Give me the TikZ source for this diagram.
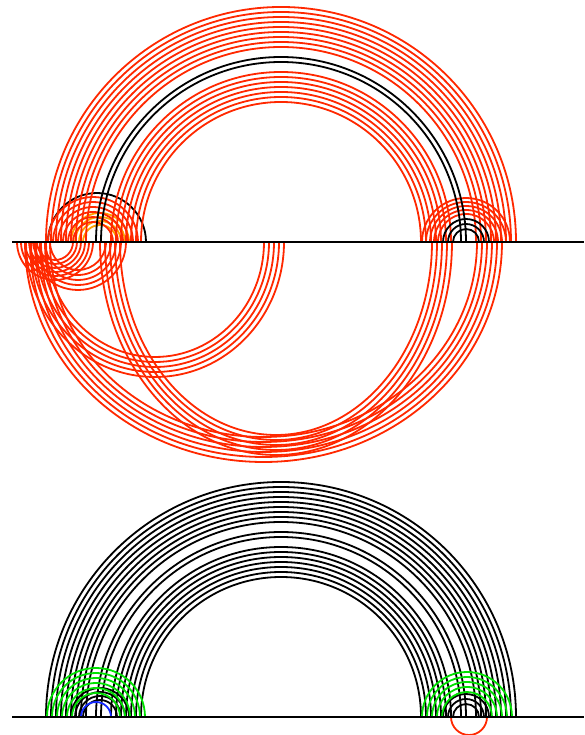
\documentclass[tikz,border=0pt]{standalone}
\usepackage{tikz}
\definecolor{strandred}{RGB}{255,40,0}
\definecolor{strandorange}{RGB}{255,160,0}
\definecolor{strandgreen}{RGB}{0,225,0}
\definecolor{strandblue}{RGB}{20,40,255}

\begin{document}
\begin{tikzpicture}[
  x=1pt, y=1pt,
  strand/.style={line width=1.8pt},
  redstrand/.style={strand, draw=strandred},
  blackstrand/.style={strand, draw=black},
  orangestrand/.style={strand, draw=strandorange},
  greenstrand/.style={strand, draw=strandgreen},
  bluestrand/.style={strand, draw=strandblue},
  axisline/.style={line width=2.2pt, draw=black}
]
\useasboundingbox (0,0) rectangle (584,735);
\coordinate (topW) at (12,493);
\coordinate (topE) at (584,493);
\coordinate (botW) at (12,18);
\coordinate (botE) at (584,18);

\draw[blackstrand] (48,493) arc[start angle=180,end angle=0,radius=49];
\foreach \r in {17,21,25,29}
  \draw[orangestrand] (100-\r,493) arc[start angle=180,end angle=0,radius=\r];
\foreach \r in {20,25,...,45}
  \draw[redstrand] (93-\r,493) arc[start angle=180,end angle=0,radius=\r];
\foreach \r in {28,32,...,44}
  \draw[redstrand] (466-\r,493) arc[start angle=180,end angle=0,radius=\r];
\foreach \r in {195,200,...,235}
  \draw[redstrand] (281-\r,493) arc[start angle=180,end angle=0,radius=\r];
\foreach \r in {140,145,...,170}
  \draw[redstrand] (281-\r,493) arc[start angle=180,end angle=0,radius=\r];
\foreach \r in {180,185}
  \draw[blackstrand] (281-\r,493) arc[start angle=180,end angle=0,radius=\r];
\foreach \r in {13,18,23}
  \draw[blackstrand] (466-\r,493) arc[start angle=180,end angle=0,radius=\r];

\foreach \r in {18,22,...,38}
  \draw[redstrand] (55-\r,493) arc[start angle=180,end angle=360,radius=\r];
\foreach \r in {28,33,...,48}
  \draw[redstrand] (78-\r,493) arc[start angle=180,end angle=360,radius=\r];
\foreach \i [evaluate=\i as \a using 129-5*\i, evaluate=\i as \b using 135-5*\i] in {0,...,4}
  \draw[redstrand] (26+5*\i,493) arc[start angle=180,end angle=360,x radius=\a,y radius=\b];
\foreach \i [evaluate=\i as \a using 238.5-5*\i, evaluate=\i as \b using 220-5*\i] in {0,...,5}
  \draw[redstrand] (25+5*\i,493) arc[start angle=180,end angle=360,x radius=\a,y radius=\b];
\foreach \i [evaluate=\i as \a using 176-5*\i, evaluate=\i as \b using 213-5*\i] in {0,...,4}
  \draw[redstrand] (100+5*\i,493) arc[start angle=180,end angle=360,x radius=\a,y radius=\b];

\foreach \r in {140,145,...,170,180,185,195,200,...,235}
  \draw[blackstrand] (281-\r,18) arc[start angle=180,end angle=0,radius=\r];
\foreach \r in {17,21,25,29}
  \draw[blackstrand] (100-\r,18) arc[start angle=180,end angle=0,radius=\r];
\foreach \r in {13,18,23}
  \draw[blackstrand] (466-\r,18) arc[start angle=180,end angle=0,radius=\r];
\foreach \r in {24,29,...,49}
  \draw[greenstrand] (96-\r,18) arc[start angle=180,end angle=0,radius=\r];
\foreach \r in {25,30,...,45}
  \draw[greenstrand] (467-\r,18) arc[start angle=180,end angle=0,radius=\r];
\draw[bluestrand] (81,18) arc[start angle=180,end angle=0,radius=15];
\draw[redstrand] (451,18) arc[start angle=180,end angle=360,radius=18];

\draw[axisline] (topW) -- (topE);
\draw[axisline] (botW) -- (botE);
\end{tikzpicture}
\end{document}
